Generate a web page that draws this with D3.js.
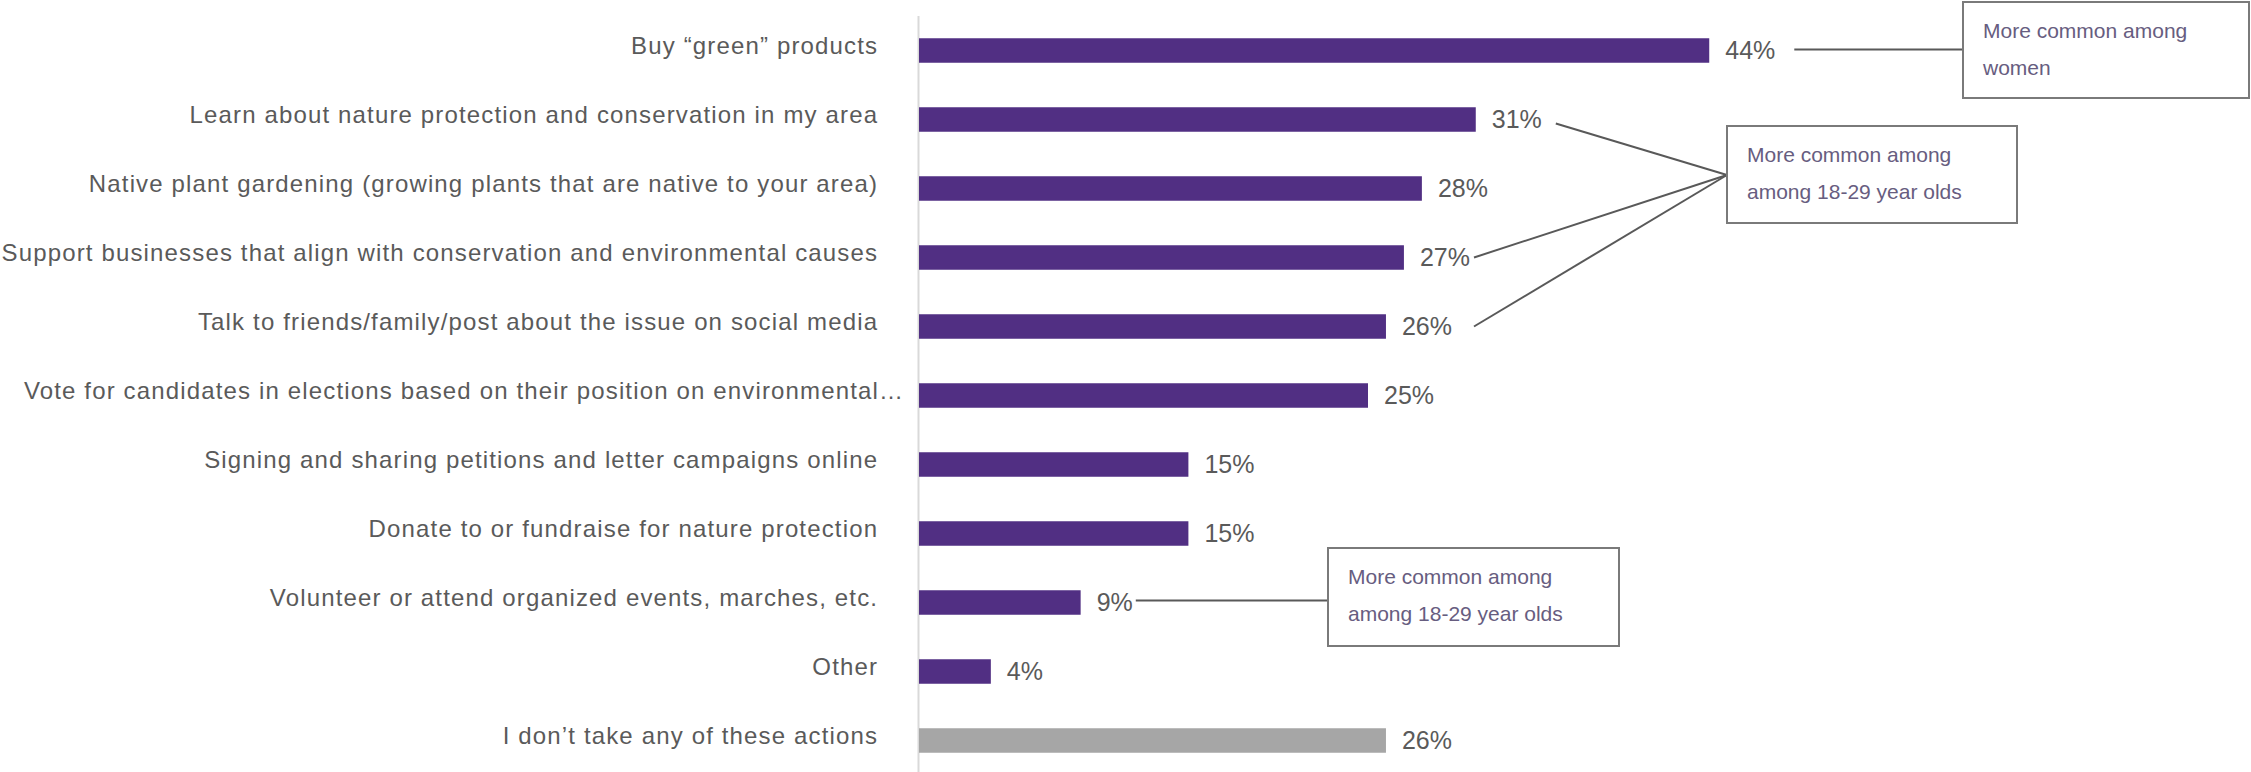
<!DOCTYPE html>
<html>
<head>
<meta charset="utf-8">
<script src="https://cdn.jsdelivr.net/npm/d3@7"></script>
<style>
  html, body { margin: 0; padding: 0; background: #ffffff; }
  svg { display: block; }
</style>
</head>
<body>
<svg id="chart" width="2251" height="772"></svg>
<script>
// Actions people take for nature protection, share of respondents (%)
const categories = [
  "Buy \u201cgreen\u201d products",
  "Learn about nature protection and conservation in my area",
  "Native plant gardening (growing plants that are native to your area)",
  "Support businesses that align with conservation and environmental causes",
  "Talk to friends/family/post about the issue on social media",
  "Vote for candidates in elections based on their position on environmental\u2026",
  "Signing and sharing petitions and letter campaigns online",
  "Donate to or fundraise for nature protection",
  "Volunteer or attend organized events, marches, etc.",
  "Other",
  "I don\u2019t take any of these actions"
];
const values = [44, 31, 28, 27, 26, 25, 15, 15, 9, 4, 26];
const valueLabels = ["44%", "31%", "28%", "27%", "26%", "25%", "15%", "15%", "9%", "4%", "26%"];
// The last row is the "none" answer, drawn in grey
const noneCategory = "I don\u2019t take any of these actions";

// Call-out notes and the rows they point at
const noteWomenText = ["More common among", "women"];
const noteWomenRows = [0];
const noteYouthText = ["More common among", "among 18-29 year olds"];
const noteYouthRows = [1, 3, 4];
const noteYouth2Text = ["More common among", "among 18-29 year olds"];
const noteYouth2Rows = [8];

const svg = d3.select("#chart");
const axisX = 919;

const x = d3.scaleLinear().domain([0, 50]).range([axisX, axisX + 898]);
const y = d3.scaleBand()
  .domain(categories)
  .range([16, 16 + 69 * categories.length])
  .paddingInner(0.645)
  .paddingOuter(0.3225);

const labelFont = "'Liberation Sans', Arial, Helvetica, sans-serif";
const textGrey = "#5a5a5a";

// Category axis line
svg.append("line")
  .attr("x1", axisX - 0.5).attr("x2", axisX - 0.5)
  .attr("y1", 16).attr("y2", 772)
  .attr("stroke", "#d9d9d9").attr("stroke-width", 2);

const rows = categories.map((c, i) => ({ cat: c, v: values[i], label: valueLabels[i] }));

// Bars
svg.append("g").selectAll("rect").data(rows).join("rect")
  .attr("x", axisX)
  .attr("y", d => y(d.cat))
  .attr("width", d => x(d.v) - axisX)
  .attr("height", y.bandwidth())
  .attr("fill", d => d.cat === noneCategory ? "#a6a6a6" : "#512f83");

// Category labels (letter-spacing trails the last glyph, so shift right by it)
const catSpacing = 1.15;
svg.append("g").selectAll("text").data(rows).join("text")
  .attr("x", d => (d.cat.endsWith("\u2026") ? 903 : 877) + catSpacing)
  .attr("y", d => y(d.cat) + y.bandwidth() / 2 - 5)
  .attr("dy", "0.35em")
  .attr("text-anchor", "end")
  .attr("font-family", labelFont)
  .attr("font-size", 24)
  .attr("letter-spacing", catSpacing)
  .attr("fill", textGrey)
  .text(d => d.cat);

// Value labels
const valueText = svg.append("g").selectAll("text").data(rows).join("text")
  .attr("x", d => x(d.v) + 16)
  .attr("y", d => y(d.cat) + y.bandwidth() / 2)
  .attr("dy", "0.35em")
  .attr("font-family", labelFont)
  .attr("font-size", 25)
  .attr("fill", textGrey)
  .text(d => d.label);

// Call-out boxes with leader lines
function note(lines, box, anchor, starts) {
  const g = svg.append("g");
  starts.forEach(s => {
    g.append("line")
      .attr("x1", s[0]).attr("y1", s[1])
      .attr("x2", anchor[0]).attr("y2", anchor[1])
      .attr("stroke", "#595959").attr("stroke-width", 2);
  });
  g.append("rect")
    .attr("x", box.x).attr("y", box.y)
    .attr("width", box.w).attr("height", box.h)
    .attr("fill", "#ffffff")
    .attr("stroke", "#7a7a7a").attr("stroke-width", 2);
  lines.forEach((t, i) => {
    g.append("text")
      .attr("x", box.x + 20)
      .attr("y", box.y + 36 + i * 37)
      .attr("font-family", labelFont)
      .attr("font-size", 21)
      .attr("fill", "#675d80")
      .text(t);
  });
}

const rowMid = i => y(categories[i]) + y.bandwidth() / 2;
const labelEnd = i => x(values[i]) + 16 + valueText.nodes()[i].getComputedTextLength();

note(noteWomenText,
  { x: 1963, y: 2, w: 286, h: 96 },
  [1963, rowMid(0) - 1],
  noteWomenRows.map(i => [labelEnd(i) + 19, rowMid(i) - 1]));

note(noteYouthText,
  { x: 1727, y: 126, w: 290, h: 97 },
  [1727, 175],
  [[labelEnd(1) + 14, rowMid(1) + 4], [1474, rowMid(3)], [1474, rowMid(4)]]);

note(noteYouth2Text,
  { x: 1328, y: 548, w: 291, h: 98 },
  [1328, rowMid(8) - 2],
  noteYouth2Rows.map(i => [labelEnd(i) + 3, rowMid(i) - 2]));
</script>
</body>
</html>
